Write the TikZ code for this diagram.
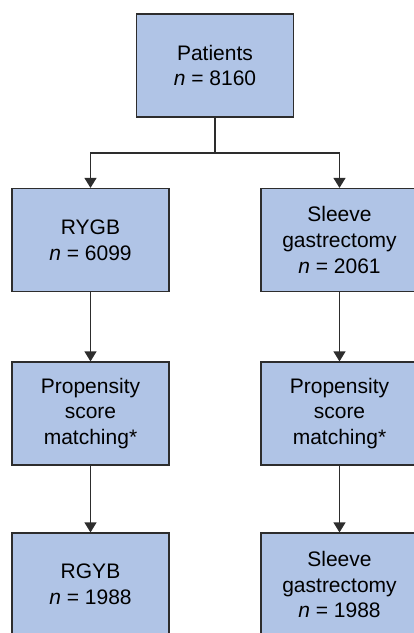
\documentclass[tikz,border=0pt]{standalone}
\usepackage{fontspec}
\setmainfont{Liberation Sans}
\usetikzlibrary{arrows.meta}
\definecolor{boxfill}{RGB}{176,196,230}
\definecolor{boxline}{RGB}{45,45,45}
\begin{document}
\begin{tikzpicture}[x=1pt,y=-1pt,
  flowbox/.style={draw=boxline,fill=boxfill,line width=1.2pt,minimum width=157pt,minimum height=103pt,
    align=center,font=\fontsize{21}{25.7}\selectfont,inner sep=0pt},
  conn/.style={draw=boxline,line width=1.2pt},
  arr/.style={conn,-{Triangle[length=10pt,width=12pt]}}]
\useasboundingbox (0,0) rectangle (414,633);
\node[flowbox] (P) at (215,65.5) {Patients\\\textit{n} = 8160};
\node[flowbox] (R) at (90.5,240) {RYGB\\\textit{n} = 6099};
\node[flowbox] (S) at (339.5,240) {Sleeve\\gastrectomy\\\textit{n} = 2061};
\node[flowbox] (PL) at (90.5,413.5) {Propensity\\score\\matching*};
\node[flowbox] (PR) at (339.5,413.5) {Propensity\\score\\matching*};
\node[flowbox] (BL) at (90.5,584.5) {RGYB\\\textit{n} = 1988};
\node[flowbox] (BR) at (339.5,584.5) {Sleeve\\gastrectomy\\\textit{n} = 1988};
\coordinate (split) at (215,153);
\draw[conn] (P.south) -- (split);
\draw[arr] (split) -| (R.north);
\draw[arr] (split) -| (S.north);
\draw[arr] (R.south) -- (PL.north);
\draw[arr] (S.south) -- (PR.north);
\draw[arr] (PL.south) -- (BL.north);
\draw[arr] (PR.south) -- (BR.north);
\end{tikzpicture}
\end{document}
